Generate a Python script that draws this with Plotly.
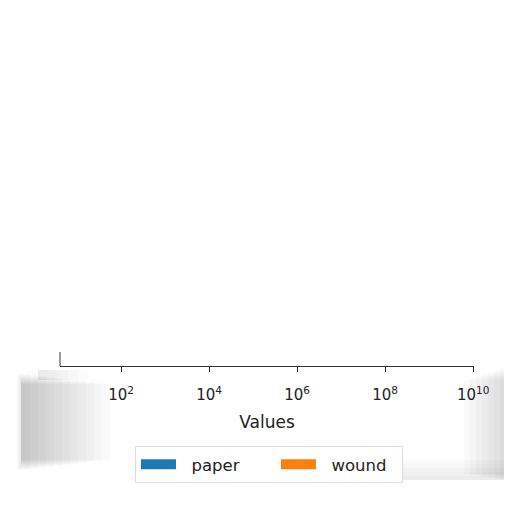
import plotly.graph_objects as go

# series shown in the legend (no bars are visible in the picture)
series_names = ["paper", "wound"]
series_colors = ["#1f77b4", "#ff7f0e"]

# log axis ticks
tick_vals = [1e2, 1e4, 1e6, 1e8, 1e10]
tick_text = ["10<sup>2</sup>", "10<sup>4</sup>", "10<sup>6</sup>", "10<sup>8</sup>", "10<sup>10</sup>"]
x_range_log = [0.61, 10.02]

nb = "\u00a0"
labels = [nb * 2 + series_names[0] + nb * 6, nb * 2 + series_names[1] + nb * 2]

fig = go.Figure()
for lab, col in zip(labels, series_colors):
    fig.add_trace(go.Scatter(x=[None], y=[None], mode="lines", name=lab,
                             line=dict(color=col, width=10)))


def px(x):
    return (x - 60) / 414


def py(y):
    return (366 - y) / 356


# soft grey shadow around the axis strip (page pixel boxes)
shadow = []
for i, x1 in enumerate(range(30, 115, 8)):
    shadow.append((17 + min(i, 4), 374 + i, x1, 470 - i, 0.018))
for i, x1 in enumerate(range(48, 90, 10)):
    shadow.append((38, 370, x1, 380, 0.015))
for i, x0 in enumerate(range(500, 460, -6)):
    shadow.append((x0, 368 + i * 2, 508 - min(i, 3), 480 - i, 0.02))
for i, y0 in enumerate(range(476, 458, -4)):
    shadow.append((130 + i * 6, y0, 506, 480, 0.015))
for x0, y0, x1, y1, a in shadow:
    fig.add_shape(type="rect", xref="paper", yref="paper", layer="below",
                  x0=px(x0), x1=px(x1), y0=py(y0), y1=py(y1),
                  line=dict(width=0), fillcolor="rgba(0,0,0,%s)" % a)

# short piece of the left spine
fig.add_shape(type="line", xref="paper", yref="paper", x0=0, x1=0, y0=0, y1=py(352),
              line=dict(color="#555", width=1.2))

fig.update_layout(
    width=504, height=504,
    margin=dict(l=52, r=38, t=2, b=146),
    paper_bgcolor="white", plot_bgcolor="rgba(0,0,0,0)",
    font=dict(family="DejaVu Sans", color="#222"),
    xaxis=dict(type="log", range=x_range_log, tickvals=tick_vals, ticktext=tick_text,
               ticks="outside", ticklen=5, tickcolor="#222", showline=True,
               linecolor="#333", linewidth=1.2, showgrid=False, zeroline=False,
               ticklabelstandoff=10,
               tickfont=dict(size=15), title=dict(text="Values", font=dict(size=17), standoff=13)),
    yaxis=dict(visible=False, range=[0, 1]),
    legend=dict(orientation="h", x=px(135), xanchor="left", y=py(446), yanchor="top",
                bgcolor="white", bordercolor="#dddddd", borderwidth=1,
                font=dict(size=16.5), itemwidth=35),
    showlegend=True,
)

fig.write_html("out.html")
